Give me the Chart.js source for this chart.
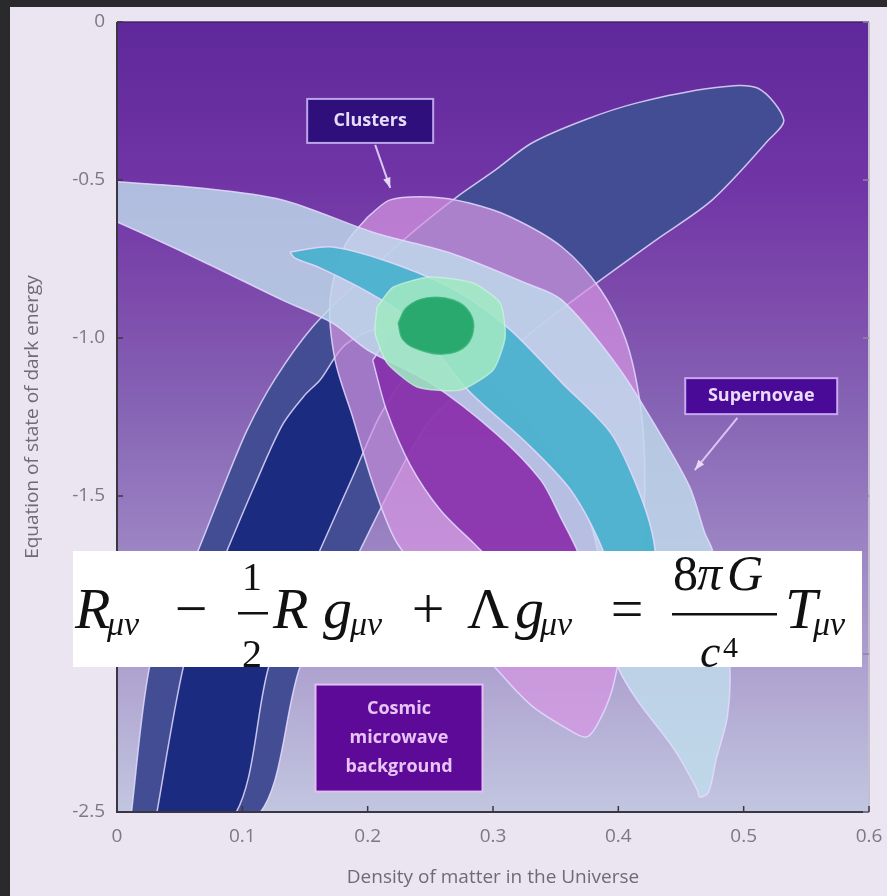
<!DOCTYPE html>
<html>
<head>
<meta charset="utf-8">
<script src="https://cdn.jsdelivr.net/npm/chart.js@4.4.1/dist/chart.umd.min.js"></script>
<style>
  html, body { margin: 0; padding: 0; background: #2a2a2d; }
  body { width: 887px; height: 896px; position: relative; overflow: hidden; }
  #panel { position: absolute; left: 10px; top: 7px; width: 877px; height: 889px; background: #ebe4f1; }
  canvas { display: block; }
</style>
</head>
<body>
<div id="panel"><canvas id="contours" width="877" height="889"></canvas></div>
<script>
// axis ticks
const xTickValues = [0, 0.1, 0.2, 0.3, 0.4, 0.5, 0.6];
const yTickValues = [0, -0.5, -1.0, -1.5, -2.0, -2.5];

// contour outlines, [matter density, w]
const cmbOuter = [
  [0.011, -2.52], [0.026, -2.04], [0.044, -1.86], [0.065, -1.67], [0.084, -1.48],
  [0.104, -1.29], [0.126, -1.13], [0.156, -0.965], [0.194, -0.816], [0.235, -0.668],
  [0.271, -0.554], [0.302, -0.468], [0.331, -0.383], [0.373, -0.310], [0.415, -0.256],
  [0.475, -0.209], [0.511, -0.209], [0.532, -0.310], [0.520, -0.373], [0.475, -0.563],
  [0.430, -0.690], [0.386, -0.816], [0.338, -0.959], [0.290, -1.117], [0.250, -1.259],
  [0.222, -1.449], [0.194, -1.671], [0.170, -1.861], [0.146, -2.041], [0.110, -2.52],
];
const cmbInner = [
  [0.031, -2.52], [0.053, -2.04], [0.070, -1.845], [0.088, -1.671], [0.110, -1.465],
  [0.132, -1.275], [0.150, -1.180], [0.162, -1.133], [0.182, -1.022], [0.210, -0.975],
  [0.234, -1.085], [0.222, -1.165], [0.208, -1.259], [0.188, -1.440], [0.162, -1.671],
  [0.138, -1.892], [0.121, -2.041], [0.092, -2.52],
];
const clustersOuter = [
  [0.200, -0.617], [0.218, -0.563], [0.250, -0.554], [0.281, -0.573], [0.314, -0.617],
  [0.355, -0.712], [0.386, -0.848], [0.406, -1.006], [0.417, -1.196], [0.421, -1.386],
  [0.420, -1.576], [0.414, -1.766], [0.405, -1.924], [0.395, -2.114], [0.383, -2.225],
  [0.374, -2.263], [0.358, -2.234], [0.330, -2.161], [0.302, -2.044], [0.274, -1.908],
  [0.246, -1.766], [0.222, -1.639], [0.204, -1.459], [0.188, -1.250], [0.174, -1.070],
  [0.170, -0.880], [0.182, -0.706],
];
const clustersInner = [
  [0.204, -1.070], [0.215, -1.228], [0.234, -1.402], [0.258, -1.544], [0.286, -1.655],
  [0.314, -1.766], [0.342, -1.892], [0.362, -1.987], [0.386, -1.829], [0.377, -1.576],
  [0.346, -1.354], [0.306, -1.165], [0.266, -1.022], [0.226, -0.959],
];
const supernovaeOuter = [
  [-0.01, -0.503], [0.066, -0.525], [0.132, -0.563], [0.206, -0.668], [0.266, -0.731],
  [0.326, -0.826], [0.355, -0.880], [0.400, -1.092], [0.433, -1.301], [0.457, -1.472],
  [0.469, -1.617], [0.475, -1.671], [0.483, -1.861], [0.489, -2.044], [0.487, -2.199],
  [0.478, -2.335], [0.472, -2.437], [0.465, -2.453], [0.463, -2.430], [0.445, -2.304],
  [0.415, -2.146], [0.400, -2.044], [0.386, -1.861], [0.367, -1.671], [0.355, -1.576],
  [0.338, -1.449], [0.302, -1.301], [0.250, -1.142], [0.200, -1.038], [0.172, -0.953],
  [0.132, -0.880], [0.066, -0.753], [0.0, -0.633], [-0.01, -0.62],
];
const supernovaeInner = [
  [0.138, -0.728], [0.172, -0.712], [0.226, -0.772], [0.274, -0.858], [0.314, -0.975],
  [0.355, -1.142], [0.394, -1.301], [0.415, -1.472], [0.427, -1.617], [0.430, -1.734],
  [0.424, -1.877], [0.416, -1.956], [0.401, -1.829], [0.386, -1.655], [0.362, -1.481],
  [0.326, -1.329], [0.280, -1.165], [0.234, -0.943], [0.200, -0.854], [0.162, -0.778],
  [0.142, -0.747],
];
const combinedOuter = [
  [0.2075, -0.902], [0.2203, -0.839], [0.2498, -0.807], [0.2841, -0.826], [0.3057, -0.889],
  [0.3097, -0.997], [0.3001, -1.101], [0.2737, -1.165], [0.2394, -1.155], [0.2155, -1.079],
  [0.2059, -0.984],
];
const combinedInner = [
  [0.2243, -0.953], [0.2314, -0.902], [0.2474, -0.873], [0.2682, -0.880], [0.2817, -0.921],
  [0.2841, -0.981], [0.2761, -1.032], [0.2602, -1.051], [0.2418, -1.038], [0.2283, -1.006],
];

const closeLoop = (pairs) => [...pairs, pairs[0]].map(([x, y]) => ({ x, y }));

const region = (label, pairs, fill, order, edge = "rgba(228, 218, 255, 0.85)", tension = 0.3) => ({
  label,
  data: closeLoop(pairs),
  backgroundColor: fill,
  borderColor: edge,
  borderWidth: 1.5,
  fill: "shape",
  order,
  tension,
  pointRadius: 0,
});

const tickColor = "#7c7884";
const sansFont = '"Open Sans", "DejaVu Sans", sans-serif';

const plotBackground = {
  id: "plotBackground",
  beforeDatasetsDraw(chart) {
    const { ctx, chartArea: a } = chart;
    const g = ctx.createLinearGradient(0, a.top, 0, a.bottom);
    g.addColorStop(0, "rgb(95, 40, 155)");
    g.addColorStop(0.2, "rgb(112, 52, 165)");
    g.addColorStop(0.35, "rgb(125, 75, 172)");
    g.addColorStop(0.48, "rgb(133, 98, 180)");
    g.addColorStop(0.6, "rgb(148, 120, 190)");
    g.addColorStop(0.8, "rgb(172, 158, 206)");
    g.addColorStop(1, "rgb(194, 198, 224)");
    ctx.save();
    ctx.fillStyle = g;
    ctx.fillRect(a.left, a.top, a.width, a.height);
    ctx.restore();
  },
};

const plotFrame = {
  id: "plotFrame",
  afterDatasetsDraw(chart) {
    const { ctx, chartArea: a, scales } = chart;
    ctx.save();
    ctx.lineWidth = 1.5;
    ctx.strokeStyle = "rgba(60, 30, 100, 0.9)";
    ctx.beginPath();
    ctx.moveTo(a.left, a.top);
    ctx.lineTo(a.right, a.top);
    ctx.stroke();
    ctx.lineWidth = 2;
    ctx.strokeStyle = "#c3bdcd";
    ctx.beginPath();
    ctx.moveTo(a.right, a.top);
    ctx.lineTo(a.right, a.bottom);
    ctx.stroke();
    ctx.strokeStyle = "#3b3742";
    ctx.beginPath();
    ctx.moveTo(a.left, a.top);
    ctx.lineTo(a.left, a.bottom);
    ctx.lineTo(a.right, a.bottom);
    ctx.stroke();
    // short inward ticks
    ctx.lineWidth = 1.5;
    yTickValues.forEach((v) => {
      const y = scales.y.getPixelForValue(v);
      ctx.strokeStyle = "#3b3742";
      ctx.beginPath();
      ctx.moveTo(a.left, y);
      ctx.lineTo(a.left + 6, y);
      ctx.stroke();
      ctx.strokeStyle = "#8d86a0";
      ctx.beginPath();
      ctx.moveTo(a.right, y);
      ctx.lineTo(a.right - 6, y);
      ctx.stroke();
    });
    ctx.strokeStyle = "#3b3742";
    xTickValues.forEach((v) => {
      const x = scales.x.getPixelForValue(v);
      ctx.beginPath();
      ctx.moveTo(x, a.bottom);
      ctx.lineTo(x, a.bottom - 6);
      ctx.stroke();
    });
    ctx.restore();
  },
};

const callouts = [
  { lines: ["Clusters"], at: [0.202, -0.313], w: 126, h: 44, fill: "#2e0f7c", edge: "#bda4ea", color: "#e6dcf7",
    arrow: [[0.206, -0.389], [0.218, -0.525]] },
  { lines: ["Supernovae"], at: [0.514, -1.184], w: 152, h: 36, fill: "#4a0a98", edge: "#c8a8ee", color: "#eadcf8",
    arrow: [[0.495, -1.253], [0.461, -1.418]] },
  { lines: ["Cosmic", "microwave", "background"], at: [0.225, -2.266], w: 167, h: 107, fill: "#5e0a98", edge: "#e2bef2", color: "#e8c4f4" },
];

const calloutLabels = {
  id: "calloutLabels",
  afterDatasetsDraw(chart) {
    const { ctx, scales } = chart;
    const px = ([x, y]) => [scales.x.getPixelForValue(x), scales.y.getPixelForValue(y)];
    ctx.save();
    callouts.forEach((c) => {
      if (c.arrow) {
        const [x0, y0] = px(c.arrow[0]);
        const [x1, y1] = px(c.arrow[1]);
        const ang = Math.atan2(y1 - y0, x1 - x0);
        ctx.strokeStyle = "#d9c6f2";
        ctx.fillStyle = "#e6d8f6";
        ctx.lineWidth = 2;
        ctx.beginPath();
        ctx.moveTo(x0, y0);
        ctx.lineTo(x1, y1);
        ctx.stroke();
        ctx.beginPath();
        ctx.moveTo(x1, y1);
        ctx.lineTo(x1 - 11 * Math.cos(ang - 0.35), y1 - 11 * Math.sin(ang - 0.35));
        ctx.lineTo(x1 - 11 * Math.cos(ang + 0.35), y1 - 11 * Math.sin(ang + 0.35));
        ctx.closePath();
        ctx.fill();
      }
      const [cx, cy] = px(c.at);
      ctx.fillStyle = c.fill;
      ctx.fillRect(cx - c.w / 2, cy - c.h / 2, c.w, c.h);
      ctx.strokeStyle = c.edge;
      ctx.lineWidth = 2;
      ctx.strokeRect(cx - c.w / 2, cy - c.h / 2, c.w, c.h);
      ctx.fillStyle = c.color;
      ctx.font = "bold 18px " + sansFont;
      ctx.textAlign = "center";
      ctx.textBaseline = "middle";
      c.lines.forEach((t, i) => {
        ctx.fillText(t, cx, cy + (i - (c.lines.length - 1) / 2) * 29);
      });
    });
    ctx.restore();
  },
};

// Einstein field equation pasted over the plot
const fieldEquation = {
  id: "fieldEquation",
  afterDraw(chart) {
    const { ctx } = chart;
    const box = { x: 63, y: 544, w: 789, h: 116 };
    const serif = '"Liberation Serif", "DejaVu Serif", serif';
    const put = (t, x, y, size, italic, align = "left") => {
      ctx.font = (italic ? "italic " : "") + size + "px " + serif;
      ctx.textAlign = align;
      ctx.fillText(t, x, y);
    };
    ctx.save();
    ctx.fillStyle = "#ffffff";
    ctx.fillRect(box.x, box.y, box.w, box.h);
    ctx.beginPath();
    ctx.rect(box.x, box.y, box.w, box.h);
    ctx.clip();
    ctx.fillStyle = "#111111";
    ctx.textBaseline = "alphabetic";
    const base = 621;
    const sub = 628;
    put("R", 65, base, 58, true);
    put("\u03bc\u03bd", 97, sub, 34, true);
    put("\u2212", 181, base, 58, false, "center");
    ctx.fillRect(228, 605, 30, 2.5);
    put("1", 242, 583, 40, false, "center");
    put("2", 242, 660, 40, false, "center");
    put("R", 263, base, 58, true);
    put("g", 313, base, 58, true);
    put("\u03bc\u03bd", 340, sub, 34, true);
    put("+", 418, base, 58, false, "center");
    put("\u039b", 457, base, 58, false);
    put("g", 505, base, 58, true);
    put("\u03bc\u03bd", 530, sub, 34, true);
    put("=", 617, base, 58, false, "center");
    ctx.fillRect(662, 606, 105, 2.5);
    put("8", 663, 583, 50, false);
    put("\u03c0", 687, 583, 50, true);
    put("G", 717, 583, 50, true);
    put("c", 690, 660, 46, true);
    put("4", 713, 650, 30, false);
    put("T", 775, base, 58, true);
    put("\u03bc\u03bd", 803, sub, 34, true);
    ctx.restore();
  },
};

new Chart(document.getElementById("contours"), {
  type: "line",
  data: {
    datasets: [
      region("CMB 95%", cmbOuter, "#434d93", 8),
      region("CMB 68%", cmbInner, "#1b2b7f", 7),
      region("Clusters 95%", clustersOuter, "rgba(214, 150, 226, 0.72)", 6),
      region("Clusters 68%", clustersInner, "rgba(132, 42, 168, 0.85)", 5),
      region("Supernovae 95%", supernovaeOuter, "rgba(192, 220, 236, 0.82)", 4),
      region("Supernovae 68%", supernovaeInner, "rgba(72, 176, 204, 0.93)", 3),
      region("Combined 95%", combinedOuter, "rgba(160, 232, 196, 0.88)", 2, "rgba(205, 245, 222, 0.7)", 0.2),
      region("Combined 68%", combinedInner, "#2aa96f", 1, "rgba(60, 180, 120, 0.8)", 0.4),
    ],
  },
  options: {
    responsive: false,
    animation: false,
    devicePixelRatio: 1,
    layout: { padding: { left: 0, top: 15, right: 18, bottom: 0 } },
    plugins: {
      legend: { display: false },
      tooltip: { enabled: false },
    },
    scales: {
      x: {
        type: "linear",
        min: 0,
        max: 0.6,
        afterFit: (scale) => {
          scale.height = 84;
          scale.paddingLeft = 0;
          scale.paddingRight = 0;
        },
        afterBuildTicks: (scale) => { scale.ticks = xTickValues.map((value) => ({ value })); },
        grid: { display: false, drawTicks: false },
        border: { display: false },
        ticks: {
          padding: 13,
          color: tickColor,
          font: { family: sansFont, size: 19 },
          callback: (v) => (v === 0 ? "0" : v.toFixed(1)),
        },
        title: {
          display: true,
          text: "Density of matter in the Universe",
          color: "#6f6a78",
          font: { family: sansFont, size: 19 },
          padding: { top: 4, bottom: 7 },
        },
      },
      y: {
        type: "linear",
        min: -2.5,
        max: 0,
        afterFit: (scale) => {
          scale.width = 107;
          scale.paddingTop = 0;
          scale.paddingBottom = 0;
        },
        afterBuildTicks: (scale) => { scale.ticks = yTickValues.map((value) => ({ value })); },
        grid: { display: false, drawTicks: false },
        border: { display: false },
        ticks: {
          padding: 12,
          color: tickColor,
          font: { family: sansFont, size: 19 },
          callback: (v) => (v === 0 ? "0" : v.toFixed(1)),
        },
        title: {
          display: true,
          text: "Equation of state of dark energy",
          color: "#6f6a78",
          font: { family: sansFont, size: 19 },
          padding: { top: 11, bottom: 4 },
        },
      },
    },
  },
  plugins: [plotBackground, plotFrame, calloutLabels, fieldEquation],
});
</script>
</body>
</html>
